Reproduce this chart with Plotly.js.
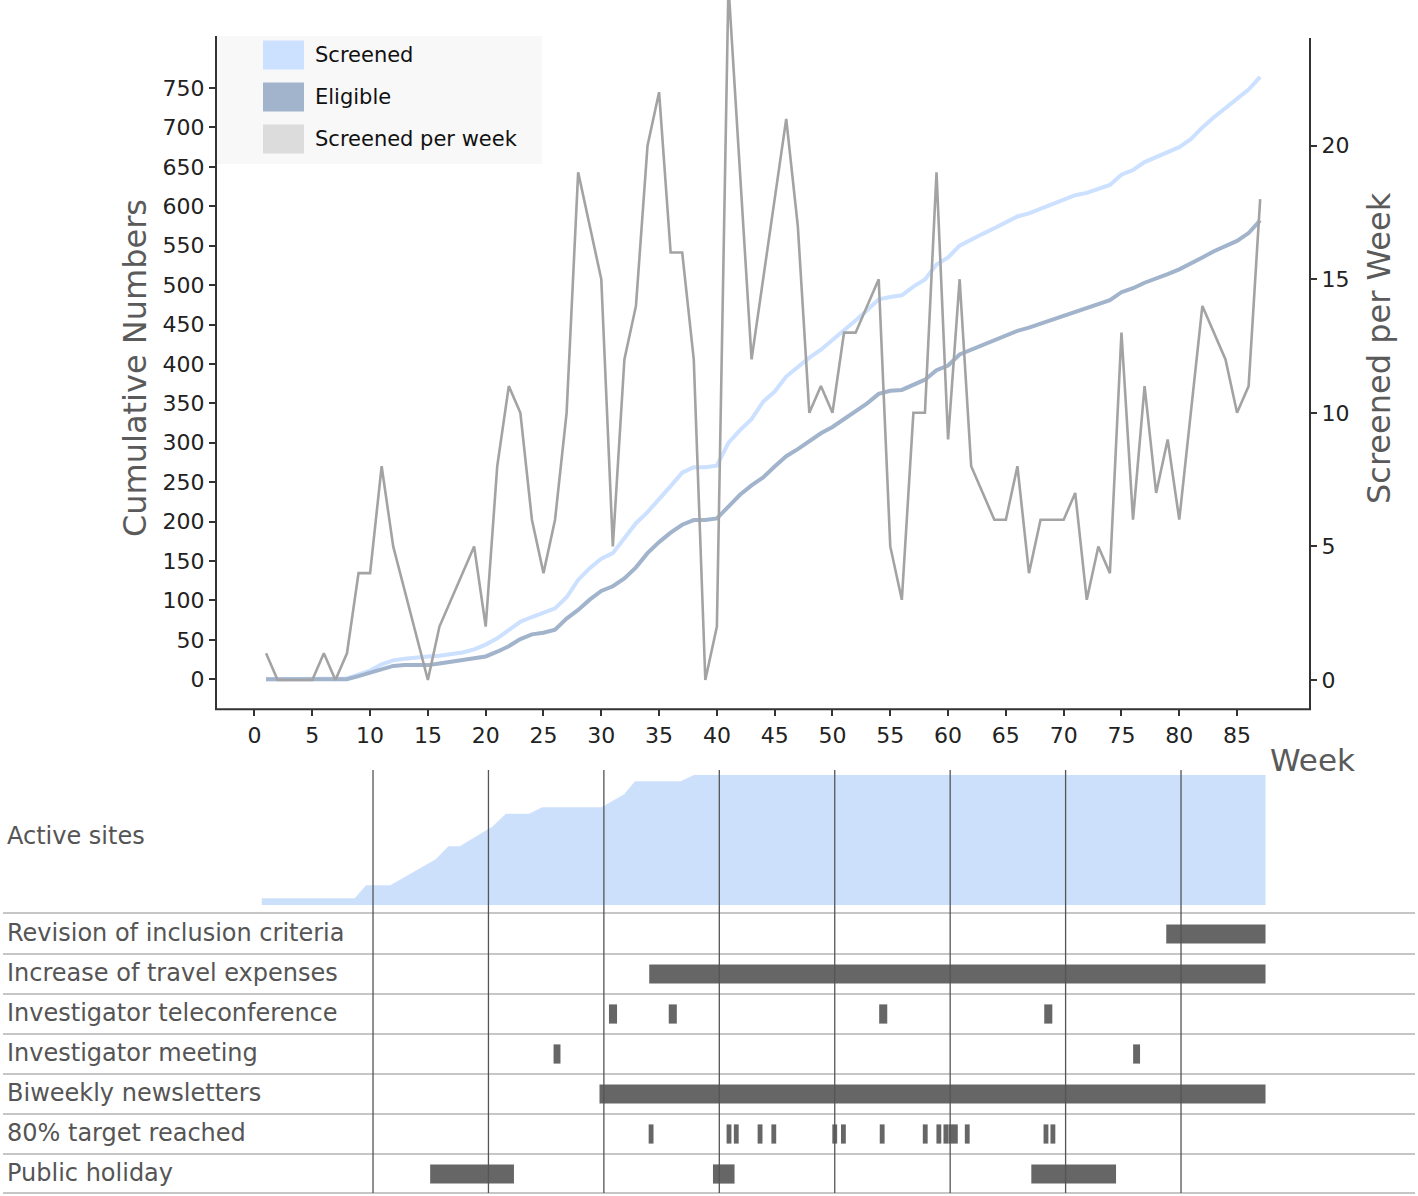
<!DOCTYPE html>
<html>
<head>
<meta charset="utf-8">
<script src="https://cdn.plot.ly/plotly-3.0.1.min.js"></script>
<style>html,body{margin:0;padding:0;background:#fff}#chart{width:1418px;height:1196px}</style>
</head>
<body>
<div id="chart"></div>
<script>
// ---------- DATA ----------
const weeks = [1,2,3,4,5,6,7,8,9,10,11,12,13,14,15,16,17,18,19,20,21,22,23,24,25,26,27,28,29,30,31,32,33,34,35,36,37,38,39,40,41,42,43,44,45,46,47,48,49,50,51,52,53,54,55,56,57,58,59,60,61,62,63,64,65,66,67,68,69,70,71,72,73,74,75,76,77,78,79,80,81,82,83,84,85,86,87];
const screenedCum = [0,0,0,0,0,0,0,1,6,11, 19,24,26,28,29,30,32,34,38,44, 52,63,73,79,84,90,104,126,141,153, 160,178,198,212,228,245,262,269,269,271, 300,316,330,352,365,384,396,408,418,430, 442,455,468,482,485,487,498,507,526,535, 550,558,565,572,580,587,591,597,602,608, 614,617,622,627,640,646,656,662,668,675, 685,700,713,725,737,748,764];
const eligibleCum = [0,0,0,0,0,0,0,0,4,8, 13,17,18,18,18,20,22,24,26,29, 35,42,51,57,59,63,77,88,101,112, 118,128,142,160,174,186,196,202,202,204, 219,234,246,256,270,283,292,302,312,320, 330,339,350,362,366,367,373,380,392,398, 412,418,423,430,436,442,446,451,456,461, 467,471,476,481,491,496,503,508,514,520, 527,535,543,549,556,566,582];
const perWeekWeeks = [1,2,3,4,5,6,7,8,9,10,11,12,15,16,19,20,21,22,23,24,25,26,27,28,30,31,32,33,34,35,36,37,38,39,40,41,43,46,47,48,49,50,51,52,54,55,56,57,58,59,60,61,62,64,65,66,67,68,69,70,71,72,73,74,75,76,77,78,79,80,82,84,85,86,87];
const perWeekValues = [1,0,0,0,0,1,0,1,4,4,8,5,0,2,5,2,8,11,10,6,4,6,10,19,15,5,12,14,20,22,16,16,12,0,2,26,12,21,17,10,11,10,13,13,15,5,3,10,10,19,9,15,8,6,6,8,4,6,6,6,7,3,5,4,13,6,11,7,9,6,14,12,10,11,18];
const seriesNames = ["Screened","Eligible","Screened per week"];

const leftTicks = [0,50,100,150,200,250,300,350,400,450,500,550,600,650,700,750];
const rightTicks = [0,5,10,15,20];
const weekTicks = [0,5,10,15,20,25,30,35,40,45,50,55,60,65,70,75,80,85];
const gridWeeks = [10,20,30,40,50,60,70,80];

// active sites (week, number of sites)
const siteWeeks = [0.36,8.41,9.40,11.5,15.43,16.53,17.51,20.33,21.51,23.51,24.65,29.79,31.76,32.7,36.66,37.84,87.32];
const siteCounts = [1,1,3,3,7,9,9,12,14,14,15,15,17,19,19,20,20];

// timeline rows (top to bottom)
const rowLabels = ["Revision of inclusion criteria","Increase of travel expenses","Investigator teleconference","Investigator meeting","Biweekly newsletters","80% target reached","Public holiday"];
const revisionSpans = [[78.72,87.32]];
const travelSpans = [[33.93,87.32]];
const teleconfWeeks = [30.79,35.97,54.2,68.5];
const meetingWeeks = [25.94,76.15];
const newsletterSpans = [[29.62,87.32]];
const target80Weeks = [34.09,40.84,41.47,43.53,44.72,50.0,50.75,54.11,57.84,59.02,59.63,60.06,60.45,61.48,68.3,68.9];
const holidaySpans = [[14.95,22.21],[39.45,41.32],[67.03,74.37]];

// ---------- STYLE / LAYOUT HELPERS ----------
const W = 1418, H = 1196;
const X = px => px / W;
const Y = py => 1 - py / H;
const FONT = "DejaVu Sans, Verdana, sans-serif";
const C_SCREENED = "#cce0ff", C_ELIG = "#a1b4cc", C_WEEK = "#a3a3a3", C_WEEK_LEG = "#dcdcdc";
const BAR = "#666666";
const teleW = 0.7, meetW = 0.6, targetW = 0.42;
const NROWS = rowLabels.length;

const traces = [
  {x: weeks, y: screenedCum, name: seriesNames[0], type: "scatter", mode: "lines",
   line: {color: C_SCREENED, width: 4}, xaxis: "x", yaxis: "y", showlegend: false},
  {x: weeks, y: eligibleCum, name: seriesNames[1], type: "scatter", mode: "lines",
   line: {color: C_ELIG, width: 4}, xaxis: "x", yaxis: "y", showlegend: false},
  {x: perWeekWeeks, y: perWeekValues, name: seriesNames[2], type: "scatter", mode: "lines",
   line: {color: C_WEEK, width: 2.6}, xaxis: "x", yaxis: "y2", showlegend: false},
  {x: siteWeeks, y: siteCounts, type: "scatter", mode: "lines", fill: "tozeroy",
   fillcolor: "#cce0fc", line: {color: "#cce0fc", width: 0.5}, xaxis: "x2", yaxis: "y3", showlegend: false}
];

function spansFromCenters(cs, w) { return cs.map(c => [c - w/2, c + w/2]); }
const rowSpans = [revisionSpans, travelSpans, spansFromCenters(teleconfWeeks, teleW),
  spansFromCenters(meetingWeeks, meetW), newsletterSpans, spansFromCenters(target80Weeks, targetW), holidaySpans];
rowSpans.forEach((spans, i) => {
  const pos = NROWS - 1 - i;
  traces.push({type: "bar", orientation: "h", y: spans.map(() => pos), base: spans.map(s => s[0]),
    x: spans.map(s => s[1] - s[0]), width: 0.48, offset: -0.24, marker: {color: BAR, line: {width: 0}},
    xaxis: "x2", yaxis: "y4", showlegend: false});
});

const shapes = [];
// axis lines of top chart
shapes.push({type: "line", xref: "paper", yref: "paper", x0: X(216), x1: X(216), y0: Y(36), y1: Y(710), line: {color: "#333", width: 2}});
shapes.push({type: "line", xref: "paper", yref: "paper", x0: X(1310), x1: X(1310), y0: Y(38), y1: Y(710), line: {color: "#333", width: 2}});
shapes.push({type: "line", xref: "paper", yref: "paper", x0: X(215), x1: X(1311), y0: Y(709.3), y1: Y(709.3), line: {color: "#333", width: 2}});
// legend box and swatches
shapes.push({type: "rect", xref: "paper", yref: "paper", x0: X(217), x1: X(542), y0: Y(164), y1: Y(36), fillcolor: "#f8f8f8", line: {width: 0}, layer: "below"});
const legCols = [C_SCREENED, C_ELIG, C_WEEK_LEG];
const legY = [55, 97, 139];
legY.forEach((cy, i) => {
  shapes.push({type: "rect", xref: "paper", yref: "paper", x0: X(263), x1: X(304), y0: Y(cy + 14.5), y1: Y(cy - 14.5), fillcolor: legCols[i], line: {width: 0}});
});
// timeline separators
[913, 954, 994, 1034, 1074, 1114, 1154, 1193].forEach(py => {
  shapes.push({type: "line", xref: "paper", yref: "paper", x0: X(3), x1: X(1415), y0: Y(py), y1: Y(py), line: {color: "#c6c6c6", width: 2}, layer: "below"});
});
// vertical week guides
gridWeeks.forEach(w => {
  shapes.push({type: "line", xref: "x2", yref: "paper", x0: w, x1: w, y0: Y(770), y1: Y(1193), line: {color: "#555", width: 1.3}, layer: "above"});
});

const annotations = [];
function ann(text, px, py, size, color, extra) {
  return Object.assign({text: text, xref: "paper", yref: "paper", x: X(px), y: Y(py), xanchor: "center", yanchor: "middle",
    showarrow: false, font: {family: FONT, size: size, color: color}}, extra || {});
}
annotations.push(ann("Cumulative Numbers", 135, 368, 32, "#5a5a5a", {textangle: -90}));
annotations.push(ann("Screened per Week", 1379, 348, 32, "#5a5a5a", {textangle: -90}));
annotations.push(ann("Week", 1312, 760, 31, "#5a5a5a"));
seriesNames.forEach((n, i) => annotations.push(ann(n, 313, legY[i], 21, "#111", {xanchor: "left"})));
annotations.push(ann("Active sites", 5, 836, 24, "#555", {xanchor: "left"}));
rowLabels.forEach((t, i) => annotations.push(ann(t, 5, 933 + 40 * i, 24, "#555", {xanchor: "left"})));

const tickFont = {family: FONT, size: 22, color: "#222"};
const layout = {
  width: W, height: H, margin: {l: 0, r: 0, t: 0, b: 0}, barmode: "overlay",
  paper_bgcolor: "#fff", plot_bgcolor: "rgba(0,0,0,0)", showlegend: false, font: {family: FONT},
  xaxis: {domain: [X(216), X(1310)], range: [-3.33, 91.31], autorange: false, tickvals: weekTicks, ticks: "outside", ticklen: 6, tickwidth: 2, tickcolor: "#333",
    showline: false, showgrid: false, zeroline: false, tickfont: tickFont, anchor: "y"},
  yaxis: {domain: [Y(709.3), 1], range: [-38.05, 861.6], autorange: false, tickvals: leftTicks, ticks: "outside", ticklen: 6, tickwidth: 2, tickcolor: "#333",
    showline: false, showgrid: false, zeroline: false, tickfont: tickFont, anchor: "x"},
  yaxis2: {overlaying: "y", side: "right", anchor: "x", range: [-1.097, 25.45], autorange: false, tickvals: rightTicks, ticks: "outside", ticklen: 6, tickwidth: 2, tickcolor: "#333",
    showline: false, showgrid: false, zeroline: false, tickfont: tickFont},
  xaxis2: {domain: [0, 1], range: [-22.316, 100.53], autorange: false, anchor: "y3", visible: false},
  yaxis3: {domain: [Y(905), Y(775)], range: [0, 20], autorange: false, anchor: "x2", visible: false},
  yaxis4: {domain: [Y(1194), Y(914)], range: [-0.5, NROWS - 0.5], autorange: false, type: "linear", anchor: "x2", visible: false},
  shapes: shapes, annotations: annotations
};

Plotly.newPlot("chart", traces, layout, {staticPlot: true});
</script>
</body>
</html>
